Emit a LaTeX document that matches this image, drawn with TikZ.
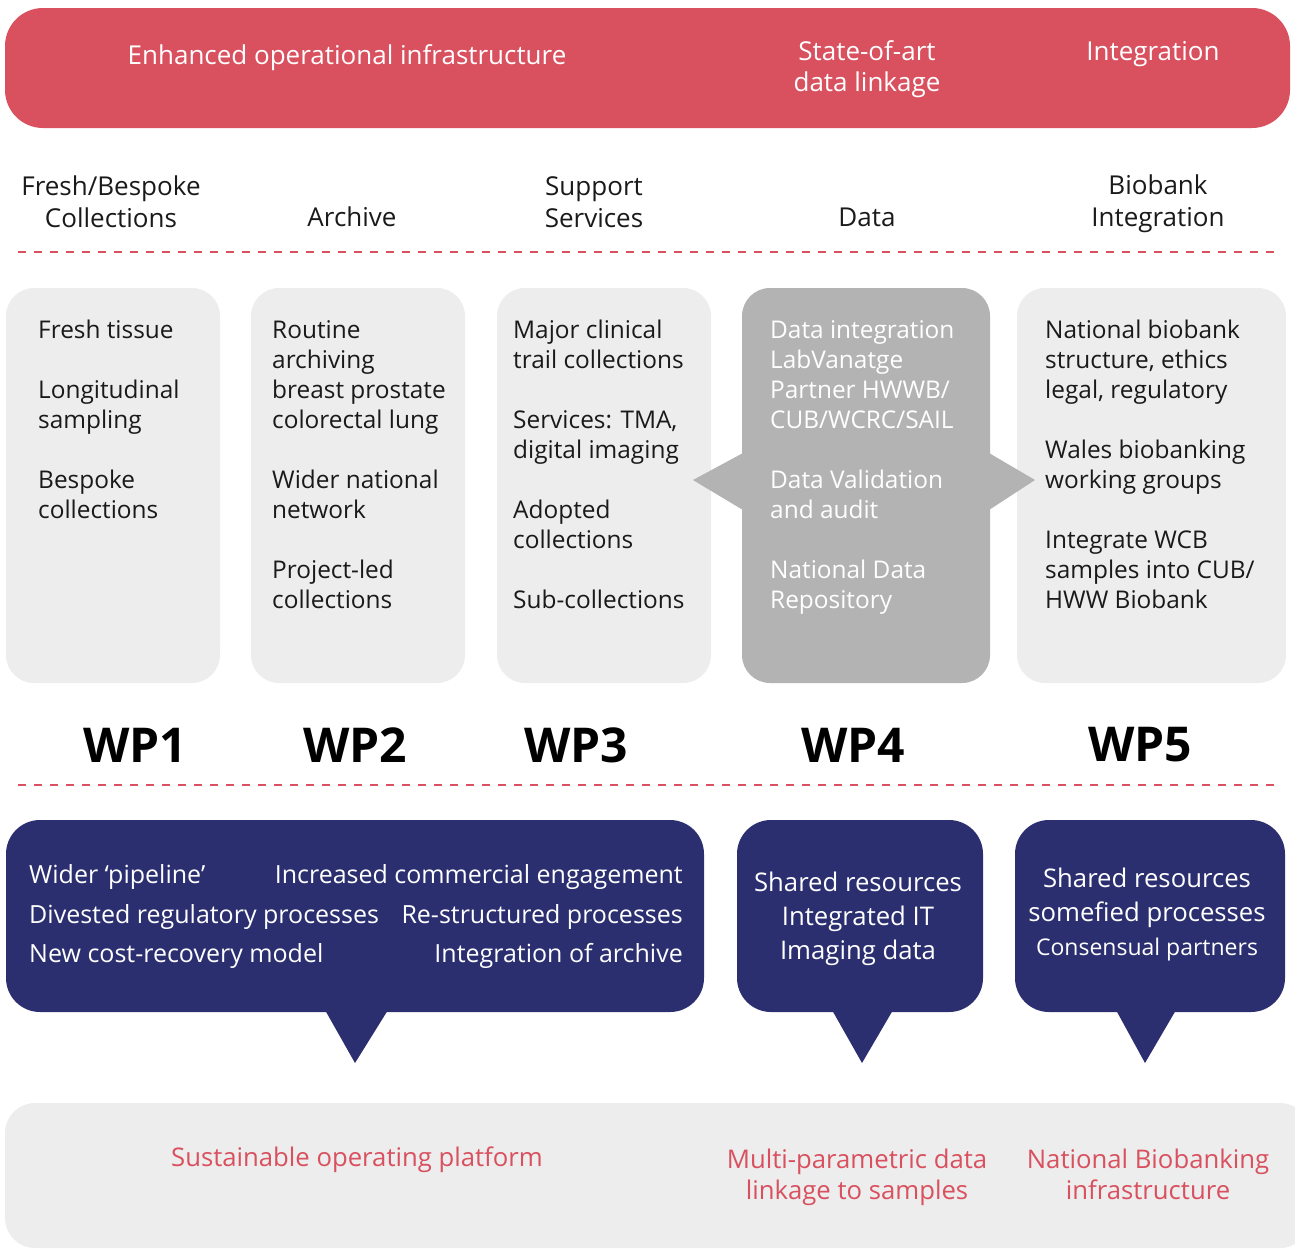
\documentclass[tikz,border=0pt]{standalone}
\usepackage{fontspec}
\setmainfont{Open Sans}
\usetikzlibrary{positioning}
\definecolor{hdrred}{HTML}{D9505F}
\definecolor{navy}{HTML}{2B2F70}
\definecolor{lightgrey}{HTML}{EDEDED}
\definecolor{midgrey}{HTML}{B3B3B3}
\definecolor{ink}{HTML}{1A1A1A}

\begin{document}
\begin{tikzpicture}[x=1pt, y=-1pt,
            panel/.style={fill=lightgrey, rounded corners=28pt},
            bubble/.style={fill=navy, rounded corners=34pt},
            body/.style={font=\fontsize{24.4}{30}\selectfont, text=ink, align=left, anchor=north west, inner sep=0pt},
            head/.style={font=\fontsize{26}{32}\selectfont, text=ink, align=center, inner sep=0pt},
            toptext/.style={font=\fontsize{26}{31}\selectfont, text=white, align=center, inner sep=0pt},
            bottext/.style={font=\fontsize{25.7}{31}\selectfont, text=hdrred, align=center, inner sep=0pt},
            bubtext/.style={font=\fontsize{25}{34}\selectfont, text=white, inner sep=0pt},
            wplabel/.style={font=\fontsize{48}{48}\selectfont\bfseries, text=black, inner sep=0pt},
            divider/.style={draw=hdrred, line width=1.4pt, dash pattern=on 8pt off 8pt}
        ]
            \useasboundingbox (0,0) rectangle (1295,1250);
            % top band
            \fill[hdrred, rounded corners=38pt] (5,8) rectangle (1290,128);
            \node[toptext] (enh) at (347,58) {Enhanced operational infrastructure};
            \node[toptext] (state) at (867,69) {State-of-art\\data linkage};
            \node[toptext] (integ) at (1153,54) {Integration};
            % headers
            \node[head] (hfresh) at (111,202) {Fresh/Bespoke\\Collections};
            \node[head] (harch) at (352,217) {Archive};
            \node[head] (hsupp) at (594,202) {Support\\Services};
            \node[head] (hdata) at (867,217) {Data};
            \node[head] (hbio) at (1158,204) {Biobank\\Integration};
            \coordinate (dl1) at (18,252);
            \coordinate (dr1) at (1275,252);
            \draw[divider] (dl1) -- (dr1);
            % panels
            \fill[panel] (6,288) rectangle (220,683);
            \fill[panel] (251,288) rectangle (465,683);
            \fill[panel] (497,288) rectangle (711,683);
            \fill[panel] (1017,288) rectangle (1286,683);
            \fill[midgrey, rounded corners=28pt] (742,288) rectangle (990,683);
            \fill[midgrey] (743,453) -- (693,480) -- (743,510) -- cycle;
            \fill[midgrey] (989,453) -- (1035,480) -- (989,510) -- cycle;
            \node[body] (wpone) at (38,320) {Fresh tissue\\[30pt]Longitudinal\\sampling\\[30pt]Bespoke\\collections};
            \node[body] (wptwo) at (272,320) {Routine\\archiving\\breast prostate\\colorectal lung\\[30pt]Wider national\\network\\[30pt]Project-led\\collections};
            \node[body] (wpthree) at (513,320) {Major clinical\\trail collections\\[30pt]Services: TMA,\\digital imaging\\[30pt]Adopted\\collections\\[30pt]Sub-collections};
            \node[body, text=white] (wpfour) at (770,320) {Data integration\\LabVanatge\\Partner HWWB/\\CUB/WCRC/SAIL\\[30pt]Data Validation\\and audit\\[30pt]National Data\\Repository};
            \node[body] (wpfive) at (1045,320) {National biobank\\structure, ethics\\legal, regulatory\\[30pt]Wales biobanking\\working groups\\[30pt]Integrate WCB\\samples into CUB/\\HWW Biobank};
            % work packages
            \node[wplabel] (wp1) at (135,745) {WP1};
            \node[wplabel] (wp2) at (355,745) {WP2};
            \node[wplabel] (wp3) at (576,745) {WP3};
            \node[wplabel] (wp4) at (853,745) {WP4};
            \node[wplabel] (wp5) at (1140,745) {WP5};
            \coordinate (dl2) at (18,785);
            \coordinate (dr2) at (1275,785);
            \draw[divider] (dl2) -- (dr2);
            % bubbles
            \fill[bubble] (6,820) rectangle (704,1012);
            \fill[navy] (325,1010) -- (355,1063) -- (388,1010) -- cycle;
            \fill[bubble] (737,820) rectangle (983,1012);
            \fill[navy] (832,1010) -- (862,1063) -- (893,1010) -- cycle;
            \fill[bubble] (1015,820) rectangle (1285,1012);
            \fill[navy] (1116,1010) -- (1145,1063) -- (1176,1010) -- cycle;
            \node[bubtext, anchor=west] (pipe) at (29,877) {Wider ‘pipeline’};
            \node[bubtext, anchor=west] (divest) at (29,917) {Divested regulatory processes};
            \node[bubtext, anchor=west] (cost) at (29,956) {New cost-recovery model};
            \node[bubtext, anchor=east] (comm) at (683,877) {Increased commercial engagement};
            \node[bubtext, anchor=east] (restr) at (683,917) {Re-structured processes};
            \node[bubtext, anchor=east] (arch) at (683,956) {Integration of archive};
            \node[bubtext, align=center, font=\fontsize{25.7}{34}\selectfont] (shared) at (858,919) {Shared resources\\Integrated IT\\Imaging data};
            \node[bubtext, align=center, font=\fontsize{25.7}{34}\selectfont] (somef) at (1147,898) {Shared resources\\somefied processes};
            \node[bubtext, font=\fontsize{23}{30}\selectfont] (consen) at (1147,950) {Consensual partners};
            % outcomes
            \fill[lightgrey, rounded corners=30pt] (5,1103) rectangle (1310,1248);
            \node[bottext] (sust) at (357,1160) {Sustainable operating platform};
            \node[bottext] (multi) at (857,1177) {Multi-parametric data\\linkage to samples};
            \node[bottext] (natbio) at (1148,1174) {National Biobanking\\infrastructure};
        \end{tikzpicture}
\end{document}
